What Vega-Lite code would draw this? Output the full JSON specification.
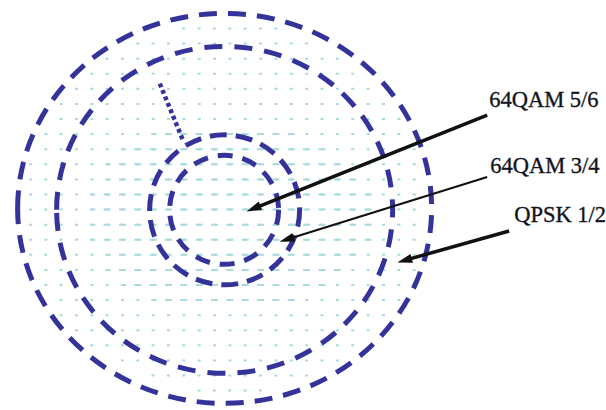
{
  "$schema": "https://vega.github.io/schema/vega-lite/v6.json",
  "width": 606,
  "height": 410,
  "autosize": {"type": "fit", "contains": "padding"},
  "padding": 0,
  "background": "white",
  "config": {"view": {"stroke": null}},
  "datasets": {
    "grid": [
      {"y": 29, "x": 182.5, "x2": 278.6},
      {"y": 44.35, "x": 136.45, "x2": 309.3},
      {"y": 59.7, "x": 105.75, "x2": 340},
      {"y": 75.05, "x": 90.4, "x2": 355.35},
      {"y": 90.4, "x": 75.05, "x2": 370.7},
      {"y": 105.75, "x": 59.7, "x2": 386.05},
      {"y": 121.1, "x": 59.7, "x2": 401.4},
      {"y": 136.45, "x": 44.35, "x2": 401.4},
      {"y": 151.8, "x": 44.35, "x2": 416.75},
      {"y": 167.15, "x": 29, "x2": 416.75},
      {"y": 182.5, "x": 29, "x2": 416.75},
      {"y": 197.85, "x": 29, "x2": 416.75},
      {"y": 213.2, "x": 29, "x2": 416.75},
      {"y": 228.55, "x": 29, "x2": 416.75},
      {"y": 243.9, "x": 29, "x2": 416.75},
      {"y": 259.25, "x": 29, "x2": 416.75},
      {"y": 274.6, "x": 44.35, "x2": 416.75},
      {"y": 289.95, "x": 44.35, "x2": 401.4},
      {"y": 305.3, "x": 59.7, "x2": 401.4},
      {"y": 320.65, "x": 59.7, "x2": 386.05},
      {"y": 336, "x": 75.05, "x2": 370.7},
      {"y": 351.35, "x": 90.4, "x2": 355.35},
      {"y": 366.7, "x": 121.1, "x2": 340},
      {"y": 382.05, "x": 151.8, "x2": 309.3},
      {"y": 397.4, "x": 197.85, "x2": 263.25}
    ],
    "gridCentre": [
      {"y": 136.45, "x": 151.8, "x2": 295.95},
      {"y": 151.8, "x": 121.1, "x2": 326.65},
      {"y": 167.15, "x": 105.75, "x2": 342},
      {"y": 182.5, "x": 105.75, "x2": 357.35},
      {"y": 197.85, "x": 90.4, "x2": 372.7},
      {"y": 213.2, "x": 90.4, "x2": 372.7},
      {"y": 228.55, "x": 90.4, "x2": 372.7},
      {"y": 243.9, "x": 90.4, "x2": 372.7},
      {"y": 259.25, "x": 105.75, "x2": 357.35},
      {"y": 274.6, "x": 105.75, "x2": 342},
      {"y": 289.95, "x": 121.1, "x2": 326.65},
      {"y": 305.3, "x": 151.8, "x2": 295.95}
    ],
    "rings": [
      {"ring": "QPSK 1/2 outer", "x": 225, "y": 212},
      {"ring": "QPSK 1/2 inner", "x": 225, "y": 213.5},
      {"ring": "64QAM 3/4", "x": 225, "y": 213.5},
      {"ring": "64QAM 5/6", "x": 224.5, "y": 213.5}
    ],
    "spoke": [
      {"x": 160, "y": 85, "x2": 183, "y2": 142}
    ],
    "arrows": [
      {"label": "64QAM 5/6", "x": 488, "y": 117, "x2": 253.9, "y2": 212.2, "dir": 337.9},
      {"label": "64QAM 3/4", "x": 488, "y": 180, "x2": 287.1, "y2": 243.7, "dir": 342.4},
      {"label": "QPSK 1/2", "x": 510, "y": 235, "x2": 405.2, "y2": 264.9, "dir": 344.1}
    ],
    "labels": [
      {"label": "64QAM 5/6", "x": 490, "y": 109},
      {"label": "64QAM 3/4", "x": 491, "y": 176},
      {"label": "QPSK 1/2", "x": 515, "y": 226}
    ]
  },
  "encoding": {
    "x": {"field": "x", "type": "quantitative", "axis": null, "scale": {"domain": [0, 606], "nice": false, "zero": false}},
    "y": {"field": "y", "type": "quantitative", "axis": null, "scale": {"domain": [0, 410], "nice": false, "zero": false, "reverse": true}}
  },
  "layer": [
    {
      "data": {"name": "grid"},
      "mark": {"type": "rule", "color": "#a9dadd", "strokeWidth": 2, "strokeDash": [3, 12.35]},
      "encoding": {"x2": {"field": "x2"}}
    },
    {
      "data": {"name": "gridCentre"},
      "mark": {"type": "rule", "color": "#a9dadd", "strokeWidth": 2, "strokeDash": [7, 8.35], "strokeDashOffset": 2},
      "encoding": {"x2": {"field": "x2"}}
    },
    {
      "data": {"name": "rings"},
      "transform": [{"filter": "datum.ring === 'QPSK 1/2 outer'"}],
      "mark": {"type": "point", "filled": false, "opacity": 1, "stroke": "#333399", "strokeWidth": 5, "strokeDash": [18, 11], "size": 171396,
        "shape": "M-1,0C-1,-0.52 -0.552,-0.942 0,-0.942C0.552,-0.942 1,-0.52 1,0C1,0.52 0.552,0.942 0,0.942C-0.552,0.942 -1,0.52 -1,0Z"}
    },
    {
      "data": {"name": "rings"},
      "transform": [{"filter": "datum.ring === 'QPSK 1/2 inner'"}],
      "mark": {"type": "point", "filled": false, "opacity": 1, "stroke": "#333399", "strokeWidth": 5, "strokeDash": [18, 12], "size": 112896,
        "shape": "M-1,0C-1,-0.537 -0.552,-0.973 0,-0.973C0.552,-0.973 1,-0.537 1,0C1,0.537 0.552,0.973 0,0.973C-0.552,0.973 -1,0.537 -1,0Z"}
    },
    {
      "data": {"name": "rings"},
      "transform": [{"filter": "datum.ring === '64QAM 3/4'"}],
      "mark": {"type": "point", "shape": "circle", "filled": false, "opacity": 1, "stroke": "#333399", "strokeWidth": 5, "strokeDash": [17, 9], "size": 22500}
    },
    {
      "data": {"name": "rings"},
      "transform": [{"filter": "datum.ring === '64QAM 5/6'"}],
      "mark": {"type": "point", "shape": "circle", "filled": false, "opacity": 1, "stroke": "#333399", "strokeWidth": 5, "strokeDash": [15, 10], "size": 11881}
    },
    {
      "data": {"name": "spoke"},
      "mark": {"type": "rule", "color": "#333399", "strokeWidth": 4.5, "strokeDash": [4, 3]},
      "encoding": {"x2": {"field": "x2"}, "y2": {"field": "y2"}}
    },
    {
      "data": {"name": "arrows"},
      "transform": [{"filter": "datum.label !== '64QAM 3/4'"}],
      "mark": {"type": "rule", "color": "#111111", "strokeWidth": 3.5},
      "encoding": {"x2": {"field": "x2"}, "y2": {"field": "y2"}}
    },
    {
      "data": {"name": "arrows"},
      "transform": [{"filter": "datum.label === '64QAM 3/4'"}],
      "mark": {"type": "rule", "color": "#111111", "strokeWidth": 2.2},
      "encoding": {"x2": {"field": "x2"}, "y2": {"field": "y2"}}
    },
    {
      "data": {"name": "arrows"},
      "mark": {"type": "point", "filled": true, "opacity": 1, "color": "#111111", "strokeWidth": 0, "size": 225, "shape": "M-1,0L1,-0.6L1,0.6Z"},
      "encoding": {
        "x": {"field": "x2", "type": "quantitative"},
        "y": {"field": "y2", "type": "quantitative"},
        "angle": {"field": "dir", "type": "quantitative", "scale": null}
      }
    },
    {
      "data": {"name": "labels"},
      "mark": {"type": "text", "font": "Liberation Serif", "fontSize": 22.5, "align": "left", "baseline": "alphabetic", "color": "#141420", "stroke": "#141420", "strokeWidth": 0.35},
      "encoding": {"text": {"field": "label"}}
    }
  ]
}
